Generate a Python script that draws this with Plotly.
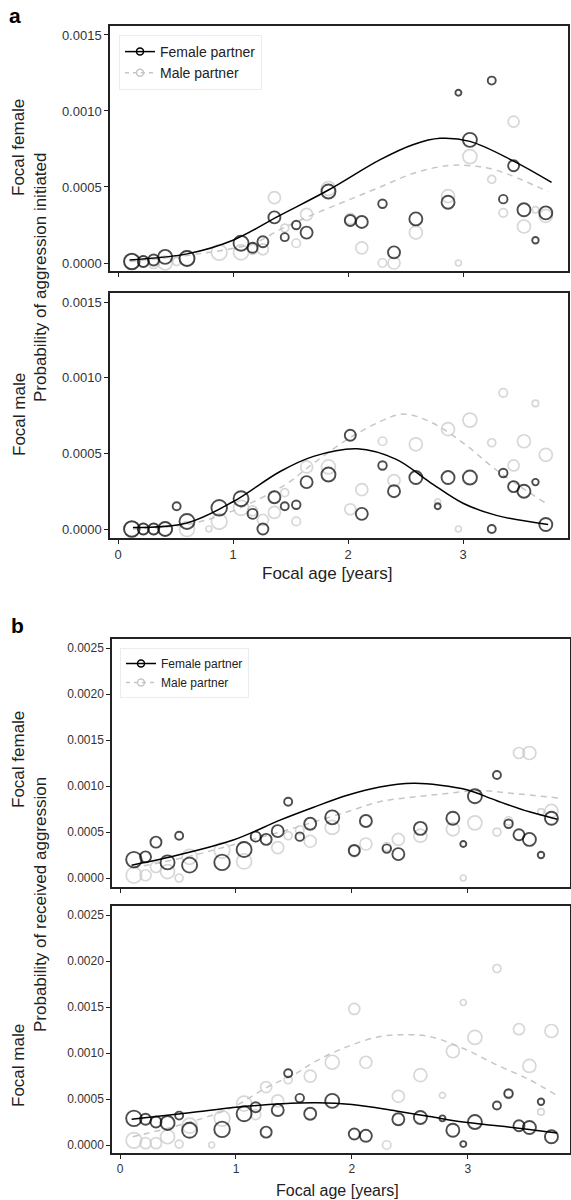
import plotly.graph_objects as go

W, H = 571, 1200

# ---------------- data ----------------
ages = [0.12, 0.22, 0.31, 0.41, 0.51, 0.60, 0.79, 0.88, 1.07, 1.17, 1.26, 1.36, 1.45, 1.55, 1.64, 1.83,
        2.02, 2.12, 2.30, 2.40, 2.59, 2.78, 2.87, 2.96, 3.06, 3.25, 3.35, 3.44, 3.53, 3.63, 3.72]
n_obs = [105, 60, 60, 90, 30, 100, 10, 105, 100, 50, 60, 70, 30, 35, 70, 90,
         60, 70, 35, 70, 80, 10, 80, 10, 90, 30, 35, 60, 80, 15, 80]

# (a) aggression initiated, focal female
a_ff_female = [0.00001, 0.00001, 0.00002, 0.00004, None, 0.00003, None, None, 0.00013, 0.00010, 0.00014, 0.00030,
               0.00017, 0.00025, 0.00020, 0.00047, 0.00028, 0.00027, 0.00039, 0.00007, 0.00029, None, 0.00040,
               0.00112, 0.00081, 0.00120, 0.00042, 0.00064, 0.00035, 0.00015, 0.00033]
a_ff_male = [0.00001, 0.00001, 0.00000, 0.00000, 0.00001, 0.00003, None, 0.00007, 0.00007, 0.00009, 0.00009, 0.00043,
             0.00023, 0.00013, 0.00032, 0.00049, 0.00029, 0.00010, 0.00000, 0.00000, 0.00020, None, 0.00044,
             0.00000, 0.00070, 0.00055, 0.00033, 0.00093, 0.00024, 0.00035, 0.00031]
# (a) aggression initiated, focal male
a_fm_female = [0.00000, 0.00000, 0.00000, 0.00000, 0.00015, 0.00005, None, 0.00014, 0.00020, 0.00010, 0.00000, 0.00021,
               0.00015, 0.00016, 0.00031, 0.00036, 0.00062, 0.00010, 0.00042, 0.00025, 0.00034, 0.00015, 0.00034,
               None, 0.00034, 0.00000, 0.00037, 0.00028, 0.00025, 0.00031, 0.00003]
a_fm_male = [0.00000, 0.00000, 0.00000, 0.00000, None, 0.00000, 0.00000, 0.00005, 0.00014, 0.00012, 0.00006, 0.00011,
             0.00024, 0.00005, 0.00041, 0.00041, 0.00013, 0.00026, 0.00058, 0.00032, 0.00056, 0.00018, 0.00066,
             0.00000, 0.00072, 0.00057, 0.00090, 0.00042, 0.00058, 0.00083, 0.00049]
# (b) received aggression, focal female
b_ff_female = [0.00020, 0.00023, 0.00039, 0.00017, 0.00046, 0.00014, None, 0.00017, 0.00031, 0.00045, 0.00042, 0.00051,
               0.00083, 0.00045, 0.00059, 0.00066, 0.00030, 0.00062, 0.00032, 0.00026, 0.00054, None, 0.00065,
               0.00037, 0.00089, 0.00112, 0.00059, 0.00047, 0.00042, 0.00025, 0.00065]
b_ff_male = [0.00003, 0.00003, 0.00012, 0.00007, 0.00000, 0.00023, None, 0.00030, 0.00018, 0.00045, None, 0.00033,
             0.00046, 0.00052, 0.00040, 0.00055, 0.00029, 0.00037, 0.00034, 0.00042, 0.00046, None, 0.00053,
             0.00000, 0.00060, 0.00050, 0.00062, 0.00136, 0.00136, 0.00072, 0.00073]
# (b) received aggression, focal male
b_fm_female = [0.00029, 0.00028, 0.00025, 0.00024, 0.00032, 0.00016, None, 0.00017, 0.00034, 0.00041, 0.00014, 0.00038,
               0.00078, 0.00051, 0.00034, 0.00048, 0.00012, 0.00010, None, 0.00028, 0.00030, 0.00029, 0.00016,
               0.00001, 0.00025, 0.00043, 0.00056, 0.00021, 0.00019, 0.00047, 0.00009]
b_fm_male = [0.00005, 0.00002, 0.00002, 0.00009, 0.00001, 0.00021, 0.00000, 0.00029, 0.00045, 0.00033, 0.00063, 0.00048,
             0.00071, None, 0.00075, 0.00090, 0.00148, 0.00090, 0.00000, 0.00053, 0.00076, 0.00054, 0.00102,
             0.00155, 0.00117, 0.00192, 0.00055, 0.00126, 0.00086, 0.00036, 0.00124]

# fitted curves
a_ff_fit_x_f = [0.10, 0.60, 1.00, 1.40, 1.83, 2.28, 2.57, 2.80, 3.06, 3.44, 3.77]
a_ff_fit_y_f = [0.00002, 0.00006, 0.00015, 0.00031, 0.00048, 0.00068, 0.00078, 0.00082, 0.00080, 0.00067, 0.00053]
a_ff_fit_x_m = [0.10, 0.70, 1.18, 1.41, 1.70, 1.99, 2.28, 2.57, 2.86, 3.06, 3.29, 3.74]
a_ff_fit_y_m = [0.00001, 0.00006, 0.00013, 0.00022, 0.00032, 0.00041, 0.00050, 0.00059, 0.00064, 0.00064, 0.00061, 0.00047]

a_fm_fit_x_f = [0.13, 0.60, 1.00, 1.41, 1.70, 2.08, 2.42, 2.71, 3.00, 3.29, 3.74]
a_fm_fit_y_f = [0.00001, 0.00004, 0.00018, 0.00038, 0.00048, 0.00053, 0.00046, 0.00031, 0.00017, 0.00009, 0.00003]
a_fm_fit_x_m = [0.13, 0.60, 1.00, 1.47, 1.64, 1.99, 2.28, 2.48, 2.71, 3.00, 3.29, 3.72]
a_fm_fit_y_m = [0.00000, 0.00003, 0.00012, 0.00030, 0.00040, 0.00059, 0.00071, 0.00076, 0.00071, 0.00057, 0.00039, 0.00017]

b_ff_fit_x_f = [0.10, 0.40, 0.97, 1.38, 1.67, 1.96, 2.24, 2.53, 2.76, 2.99, 3.25, 3.53, 3.77]
b_ff_fit_y_f = [0.00014, 0.00022, 0.00041, 0.00063, 0.00077, 0.00090, 0.00099, 0.00103, 0.00101, 0.00096, 0.00084, 0.00072, 0.00064]
b_ff_fit_x_m = [0.11, 0.58, 0.97, 1.49, 1.67, 1.96, 2.24, 2.53, 2.82, 3.10, 3.39, 3.78]
b_ff_fit_y_m = [0.00011, 0.00023, 0.00036, 0.00054, 0.00061, 0.00072, 0.00083, 0.00088, 0.00092, 0.00095, 0.00092, 0.00087]

b_fm_fit_x_f = [0.10, 0.60, 1.00, 1.40, 1.70, 2.00, 2.38, 2.67, 2.96, 3.25, 3.53, 3.77]
b_fm_fit_y_f = [0.00028, 0.00035, 0.00041, 0.00045, 0.00046, 0.00044, 0.00037, 0.00031, 0.00025, 0.00021, 0.00017, 0.00013]
b_fm_fit_x_m = [0.11, 0.58, 0.97, 1.27, 1.52, 1.67, 1.96, 2.24, 2.44, 2.67, 2.96, 3.25, 3.53, 3.78]
b_fm_fit_y_m = [0.00009, 0.00024, 0.00041, 0.00063, 0.00078, 0.00090, 0.00107, 0.00118, 0.00120, 0.00118, 0.00105, 0.00087, 0.00071, 0.00053]

x_ticks = [0, 1, 2, 3]
a_y_ticks = [0.0, 0.0005, 0.0010, 0.0015]
b_y_ticks = [0.0, 0.0005, 0.0010, 0.0015, 0.0020, 0.0025]

# ---------------- styling helpers ----------------
BLACK = "#000000"
GREY = "#c6c6c6"
marker_d = [5 + n / 10 for n in n_obs]


def px_x(px):
    return px / W


def px_y(py):
    return 1 - py / H


fig = go.Figure()

panels = [
    ("x", "y", a_ff_female, a_ff_male, (a_ff_fit_x_f, a_ff_fit_y_f), (a_ff_fit_x_m, a_ff_fit_y_m), "legend"),
    ("x2", "y2", a_fm_female, a_fm_male, (a_fm_fit_x_f, a_fm_fit_y_f), (a_fm_fit_x_m, a_fm_fit_y_m), None),
    ("x3", "y3", b_ff_female, b_ff_male, (b_ff_fit_x_f, b_ff_fit_y_f), (b_ff_fit_x_m, b_ff_fit_y_m), "legend2"),
    ("x4", "y4", b_fm_female, b_fm_male, (b_fm_fit_x_f, b_fm_fit_y_f), (b_fm_fit_x_m, b_fm_fit_y_m), None),
]

for xa, ya, yf, ym, ff, fm, leg in panels:
    fig.add_trace(go.Scatter(x=ages, y=ym, xaxis=xa, yaxis=ya, mode="markers", showlegend=False,
                             marker=dict(symbol="circle-open", size=marker_d, color=GREY,
                                         line=dict(width=1.7, color=GREY)), hoverinfo="skip"))
    fig.add_trace(go.Scatter(x=fm[0], y=fm[1], xaxis=xa, yaxis=ya, mode="lines", showlegend=False,
                             line=dict(color=GREY, width=1.5, dash="6px,5px", shape="spline", smoothing=1.0),
                             hoverinfo="skip"))
    fig.add_trace(go.Scatter(x=ages, y=yf, xaxis=xa, yaxis=ya, mode="markers", showlegend=False,
                             marker=dict(symbol="circle-open", size=marker_d, color=BLACK,
                                         line=dict(width=1.9, color=BLACK)), hoverinfo="skip"))
    fig.add_trace(go.Scatter(x=ff[0], y=ff[1], xaxis=xa, yaxis=ya, mode="lines", showlegend=False,
                             line=dict(color=BLACK, width=1.5, shape="spline", smoothing=1.0),
                             hoverinfo="skip"))
    if leg:
        fig.add_trace(go.Scatter(x=[None], y=[None], xaxis=xa, yaxis=ya, mode="lines+markers",
                                 name="Female partner", legend=leg,
                                 line=dict(color=BLACK, width=1.5),
                                 marker=dict(symbol="circle-open", size=7, color=BLACK, line=dict(width=1.5))))
        fig.add_trace(go.Scatter(x=[None], y=[None], xaxis=xa, yaxis=ya, mode="lines+markers",
                                 name="Male partner", legend=leg,
                                 line=dict(color=GREY, width=1.5, dash="4px,4px"),
                                 marker=dict(symbol="circle-open", size=7, color=GREY, line=dict(width=1.5))))

geo = {
    "1": (110, 568, 26, 271, [-0.0696, 3.913], [-0.0000526, 0.001559], a_y_ticks, False, 13),
    "2": (110, 568, 293, 538, [-0.0696, 3.913], [-0.0000595, 0.00156], a_y_ticks, True, 13),
    "3": (112, 570, 639, 887, [-0.069, 3.88], [-0.0000978, 0.0026], b_y_ticks, False, 12),
    "4": (112, 570, 906, 1153, [-0.069, 3.88], [-0.000087, 0.0026], b_y_ticks, True, 12),
}

layout_axes = {}
for k, (l, r, t, b, xr, yr, yt, showx, tfs) in geo.items():
    suffix = "" if k == "1" else k
    common = dict(showline=True, linecolor="#222222", linewidth=1.5, mirror=True, showgrid=False, zeroline=False,
                  ticks="outside", ticklen=4, tickwidth=1, tickcolor="#222222",
                  tickfont=dict(family="Liberation Sans, Arial, sans-serif", size=tfs, color="#333333"))
    layout_axes["xaxis" + suffix] = dict(common, domain=[px_x(l), px_x(r)], range=xr, anchor="y" + suffix,
                                         tickvals=x_ticks, showticklabels=showx)
    layout_axes["yaxis" + suffix] = dict(common, domain=[px_y(b), px_y(t)], range=yr, anchor="x" + suffix,
                                         tickvals=yt, tickformat=".4f")

fig.update_layout(**layout_axes)

FONT = "Liberation Sans, Arial, sans-serif"
ann = []


def add_text(text, px, py, size, angle=0, bold=False, color="#222222"):
    ann.append(dict(text=("<b>%s</b>" % text) if bold else text, x=px_x(px), y=px_y(py), xref="paper",
                    yref="paper", showarrow=False, textangle=angle, xanchor="center", yanchor="middle",
                    font=dict(family=FONT, size=size, color=color)))


add_text("a", 15, 16, 21, bold=True, color="#000000")
add_text("b", 17, 626, 21, bold=True, color="#000000")
add_text("Focal female", 19, 148, 17, angle=-90)
add_text("Probability of aggression initiated", 40, 278, 17, angle=-90)
add_text("Focal male", 19, 415, 17, angle=-90)
add_text("Focal age [years]", 327, 574, 17)
add_text("Focal female", 18, 760, 17, angle=-90)
add_text("Probability of received aggression", 40, 905, 17, angle=-90)
add_text("Focal male", 18, 1066, 17, angle=-90)
add_text("Focal age [years]", 337, 1190, 16)

fig.update_layout(
    width=W, height=H, margin=dict(l=0, r=0, t=0, b=0),
    paper_bgcolor="white", plot_bgcolor="white",
    annotations=ann,
    legend=dict(x=px_x(119), y=px_y(35), xanchor="left", yanchor="top", bgcolor="white",
                bordercolor="#ececec", borderwidth=1, font=dict(family=FONT, size=14, color="#222222"),
                tracegroupgap=0, itemwidth=30),
    legend2=dict(x=px_x(120), y=px_y(648), xanchor="left", yanchor="top", bgcolor="white",
                 bordercolor="#ececec", borderwidth=1, font=dict(family=FONT, size=12, color="#222222"),
                 tracegroupgap=0, itemwidth=30),
)

fig.write_html("out.html")
